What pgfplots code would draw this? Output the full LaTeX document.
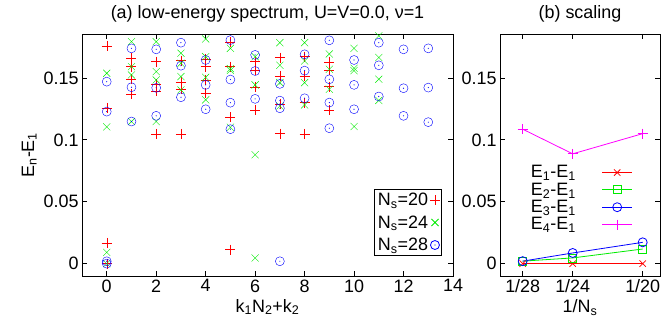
\documentclass[border=0pt]{standalone}
\usepackage{fontspec}
\setmainfont{Liberation Sans}
\usepackage{pgfplots}
\pgfplotsset{compat=1.18}
\usepackage{pgfplotstable}

\pgfdeclareplotmark{odot}{%
  \pgfpathcircle{\pgfpointorigin}{\pgfplotmarksize}\pgfusepathqstroke
  \pgfpathcircle{\pgfpointorigin}{0.6pt}\pgfusepathqfill}

\definecolor{gred}{rgb}{1,0,0}
\definecolor{ggreen}{rgb}{0,0.92,0}
\definecolor{gblue}{rgb}{0,0,1}
\definecolor{gmag}{rgb}{1,0,1}

\pgfplotstableread{
k E
0 0
0 0.0167
0 0.1258
0 0.1758
1 0.1368
1 0.1490
1 0.1591
1 0.1659
2 0.1048
2 0.1395
2 0.1450
2 0.1632
3 0.1048
3 0.1409
3 0.1465
3 0.1640
4 0.1376
4 0.1484
4 0.1591
4 0.1650
5 0.0113
5 0.1183
5 0.1591
5 0.1790
6 0.1242
6 0.1425
6 0.1565
6 0.1632
7 0.1050
7 0.1290
7 0.1516
7 0.1664
8 0.1048
8 0.1301
8 0.1516
8 0.1672
9 0.1242
9 0.1430
9 0.1565
9 0.1630
}\tabA

\pgfplotstableread{
k E
0 0
0 0.0091
0 0.1105
0 0.1538
1 0.1148
1 0.1524
1 0.1591
1 0.1793
2 0.1148
2 0.1484
2 0.1551
2 0.1793
3 0.1403
3 0.1511
3 0.1618
3 0.1700
4 0.1323
4 0.1505
4 0.1672
4 0.1815
5 0.1102
5 0.1560
5 0.1575
5 0.1739
6 0.0046
6 0.0880
6 0.1444
6 0.1672
7 0.1274
7 0.1462
7 0.1602
7 0.1785
8 0.1282
8 0.1462
8 0.1637
8 0.1785
9 0.1409
9 0.1570
9 0.1694
10 0.1108
10 0.1559
10 0.1578
10 0.1739
11 0.1318
11 0.1490
11 0.1665
11 0.1840
}\tabB

\pgfplotstableread{
k E
0 0
0 0.0019
0 0.1228
0 0.1470
1 0.1148
1 0.1425
1 0.1739
2 0.1194
2 0.1420
2 0.1731
3 0.1344
3 0.1599
3 0.1785
4 0.1247
4 0.1444
4 0.1645
5 0.1086
5 0.1300
5 0.1487
5 0.1806
6 0.1331
6 0.1556
6 0.1686
7 0.0019
7 0.1255
7 0.1317
7 0.1452
8 0.1336
8 0.1559
8 0.1691
9 0.1094
9 0.1301
9 0.1489
9 0.1804
10 0.1247
10 0.1444
10 0.1645
11 0.1350
11 0.1602
11 0.1785
12 0.1194
12 0.1417
12 0.1731
13 0.1143
13 0.1422
13 0.1739
}\tabC

\pgfplotsset{
  gstyle/.style={
    scale only axis,
    /pgf/number format/assume math mode=true,
    tick align=inside,
    major tick length=5bp,
    axis line style={line width=0.8bp},
    every tick/.style={black, line width=0.8bp},
    clip=false,
    ymin=-0.01, ymax=0.1855,
    ytick={0,0.05,0.1,0.15},
    yticklabels={0,0.05,0.1,0.15},
    scaled ticks=false,
    title style={at={(0.5,1)}, anchor=base, yshift=10bp},
    every mark/.append style={line width=0.9bp},
  },
}

\begin{document}
\begin{tikzpicture}[font=\fontsize{18}{21}\selectfont]
\useasboundingbox (0bp,0bp) rectangle (670bp,318bp);
\begin{axis}[gstyle,
  at={(82bp,42bp)}, anchor=south west,
  width=371bp, height=242bp,
  xmin=-1, xmax=14,
  xtick={0,2,4,6,8,10,12,14},
  title={(a) low-energy spectrum, U=V=0.0, ν=1},
  xlabel={k\textsubscript{1}N\textsubscript{2}+k\textsubscript{2}},
  ylabel={E\textsubscript{n}-E\textsubscript{1}},
  legend plot pos=right,
  legend cell align=right,
  legend style={at={(0.97,0.083)}, anchor=south east, draw=black, line width=0.8bp,
    font=\fontsize{18}{21}\selectfont, row sep=4.5bp, inner sep=1.5bp},
]
\addplot[only marks, color=gred, mark=+, mark size=5bp] table[x=k,y=E] {\tabA};
\addlegendentry{N\textsubscript{s}=20}
\addplot[only marks, color=ggreen, mark=x, mark size=5bp] table[x=k,y=E] {\tabB};
\addlegendentry{N\textsubscript{s}=24}
\addplot[only marks, color=gblue, mark=odot, mark size=4.5bp] table[x=k,y=E] {\tabC};
\addlegendentry{N\textsubscript{s}=28}
\end{axis}

\begin{axis}[gstyle,
  at={(500bp,42bp)}, anchor=south west,
  width=160bp, height=242bp,
  xmin=0.033012, xmax=0.05206,
  xtick={0.035714,0.041667,0.05},
  xticklabels={1/28,1/24,1/20},
  title={(b) scaling},
  xlabel={1/N\textsubscript{s}},
  legend plot pos=right,
  legend cell align=right,
  legend style={at={(0.83,0.465)}, anchor=north east, draw=none, fill=none,
    font=\fontsize{18}{21}\selectfont, row sep=-0.5bp, inner sep=0bp},
  legend image code/.code={\draw[mark repeat=2,mark phase=2] plot coordinates {(0bp,0bp) (15bp,0bp) (30bp,0bp)};},
]
\addplot[color=gred, line width=0.8bp, mark=x, mark size=4.5bp] coordinates {(0.035714,0) (0.041667,0) (0.05,0)};
\addlegendentry{E\textsubscript{1}-E\textsubscript{1}\rule{24bp}{0pt}}
\addplot[color=ggreen, line width=0.8bp, mark=square, mark size=4bp] coordinates {(0.035714,0.0020) (0.041667,0.0046) (0.05,0.0118)};
\addlegendentry{E\textsubscript{2}-E\textsubscript{1}\rule{24bp}{0pt}}
\addplot[color=gblue, line width=0.8bp, mark=o, mark size=4.5bp] coordinates {(0.035714,0.0020) (0.041667,0.0086) (0.05,0.0172)};
\addlegendentry{E\textsubscript{3}-E\textsubscript{1}\rule{24bp}{0pt}}
\addplot[color=gmag, line width=0.8bp, mark=+, mark size=5bp] coordinates {(0.035714,0.1086) (0.041667,0.0887) (0.05,0.1050)};
\addlegendentry{E\textsubscript{4}-E\textsubscript{1}\rule{24bp}{0pt}}
\end{axis}
\end{tikzpicture}
\end{document}
